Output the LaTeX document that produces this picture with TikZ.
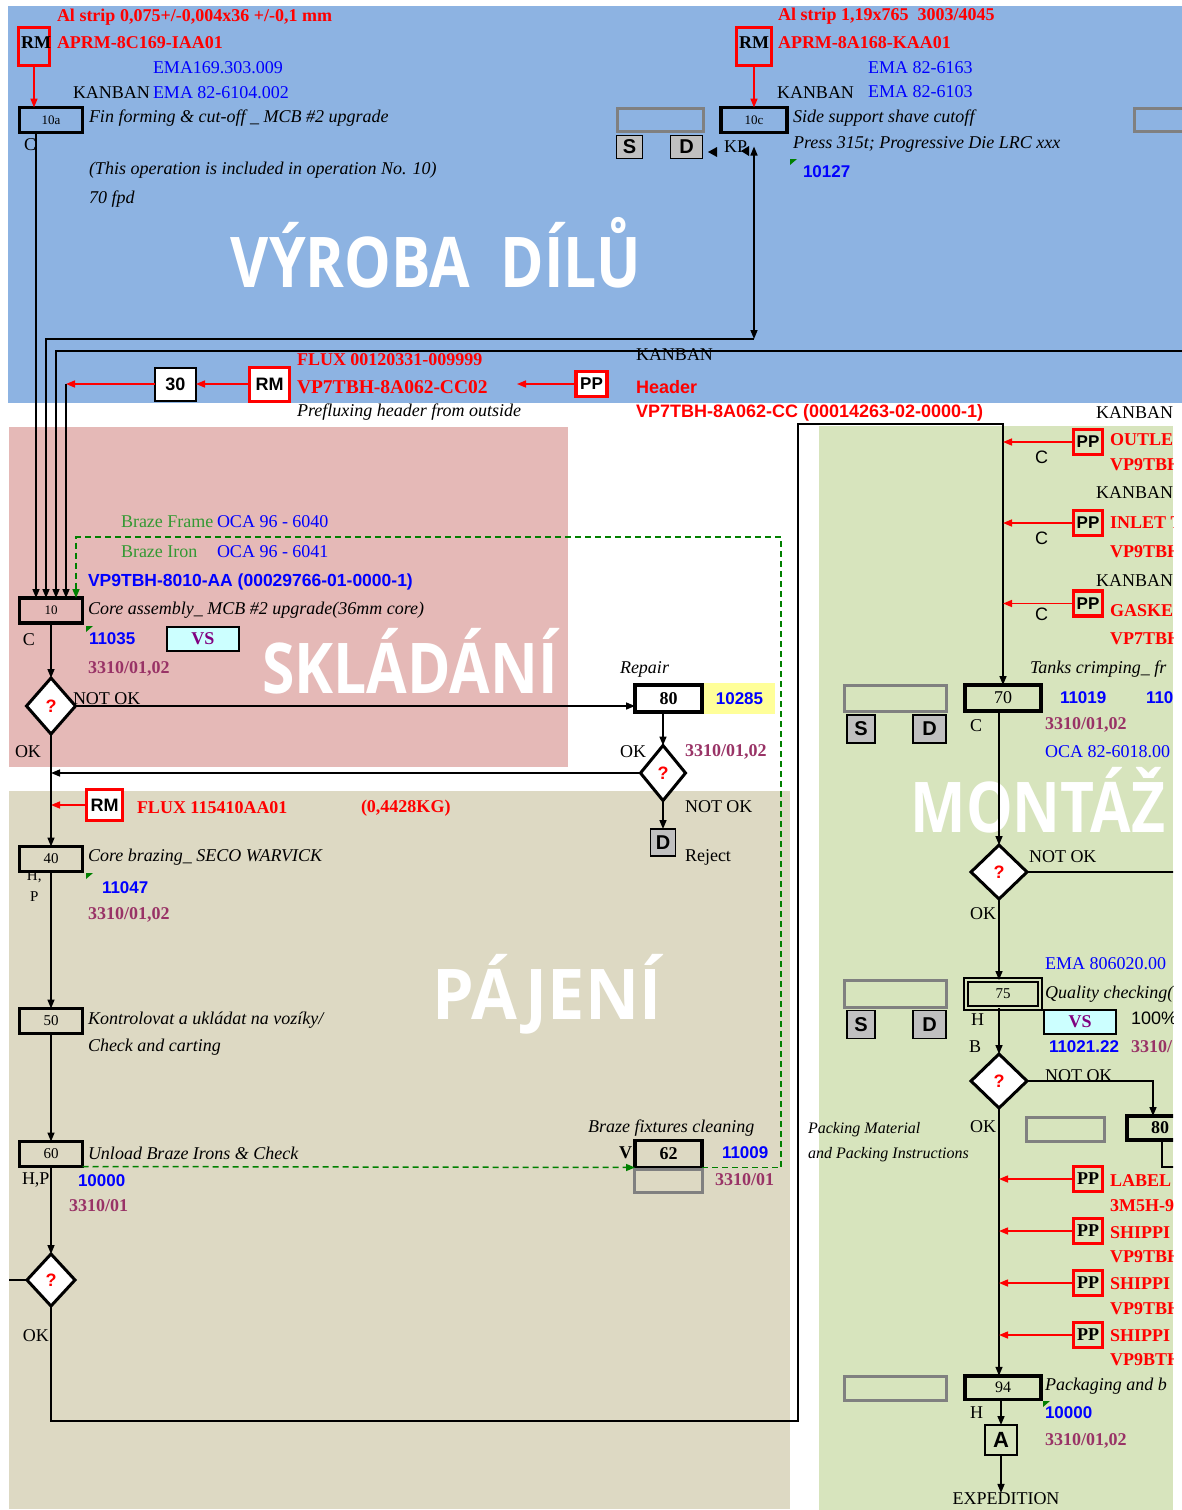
\documentclass[tikz,border=0pt]{standalone}
\usepackage{fontspec}
\setmainfont{Liberation Serif}
\setsansfont{Liberation Sans}
\newfontfamily\zonefont[FakeStretch=0.84]{Open Sans}
\newfontfamily\zonefontwide[FakeStretch=0.95]{Open Sans}
\usetikzlibrary{arrows.meta,shapes.geometric,positioning}

\definecolor{vyrobafill}{RGB}{141,179,226}
\definecolor{skladanifill}{RGB}{229,185,183}
\definecolor{pajenifill}{RGB}{221,217,195}
\definecolor{montazfill}{RGB}{215,228,189}
\definecolor{pfred}{RGB}{255,0,0}
\definecolor{pfblue}{RGB}{0,0,255}
\definecolor{pfplum}{RGB}{153,51,102}
\definecolor{pfgreen}{RGB}{51,153,51}
\definecolor{pfflag}{RGB}{0,128,0}
\definecolor{vsfill}{RGB}{204,255,255}
\definecolor{vstext}{RGB}{128,0,128}
\definecolor{wcfill}{RGB}{255,255,153}
\definecolor{sdfill}{RGB}{192,192,192}
\definecolor{stockdraw}{RGB}{128,128,128}

\begin{document}
\begin{tikzpicture}[
  x=1pt,
  y=-1pt,
  every node/.style={inner sep=0pt, outer sep=0pt},
  txt/.style={anchor=west, font=\fontsize{18}{20}\selectfont},
  sublabel/.style={anchor=west, font=\fontsize{15}{16}\selectfont},
  csans/.style={anchor=west, font=\sffamily\fontsize{18}{20}\selectfont},
  note/.style={anchor=west, font=\itshape\fontsize{18}{20}\selectfont},
  part/.style={anchor=west, text=pfred, font=\bfseries\fontsize{18}{20}\selectfont},
  partsans/.style={anchor=west, text=pfred, font=\sffamily\bfseries\fontsize{18}{20}\selectfont},
  ema/.style={anchor=west, text=pfblue, font=\fontsize{18}{20}\selectfont},
  braze/.style={anchor=west, text=pfgreen, font=\fontsize{18}{20}\selectfont},
  wc/.style={anchor=west, text=pfblue, font=\sffamily\bfseries\fontsize{17}{19}\selectfont},
  dwg/.style={anchor=west, text=pfplum, font=\bfseries\fontsize{18}{20}\selectfont},
  zone/.style={anchor=base, text=white, font=\zonefont\bfseries\fontsize{70}{70}\selectfont},
  rmlabel/.style={font=\bfseries\fontsize{18}{20}\selectfont},
  opbox/.style={draw, line width=3.5pt, minimum width=63, minimum height=25, font=\fontsize{13}{13}\selectfont},
  bigop/.style={opbox, minimum width=67, minimum height=27, font=\bfseries\fontsize{18}{18}\selectfont},
  opthin/.style={draw, line width=2pt, fill=white, minimum width=41, minimum height=33, font=\sffamily\bfseries\fontsize{18}{18}\selectfont},
  opdouble/.style={draw, line width=2pt, double=montazfill, double distance=2pt, minimum width=74, minimum height=28, font=\fontsize{15}{15}\selectfont},
  rmbox/.style={draw=pfred, line width=3pt},
  ppbox/.style={draw=pfred, line width=3.5pt, minimum width=29, minimum height=25, font=\sffamily\bfseries\fontsize{17}{17}\selectfont},
  vsbox/.style={draw, line width=2pt, fill=vsfill, text=vstext, minimum width=72, minimum height=24, font=\bfseries\fontsize{18}{18}\selectfont},
  wcbox/.style={fill=wcfill, minimum width=71, minimum height=31, text=pfblue, font=\sffamily\bfseries\fontsize{17}{17}\selectfont},
  sdbox/.style={draw, line width=1.5pt, fill=sdfill, font=\sffamily\bfseries\fontsize{20}{20}\selectfont},
  stock/.style={draw=stockdraw, line width=3pt},
  decision/.style={diamond, draw, line width=3pt, fill=white, text=pfred, font=\sffamily\bfseries\fontsize{18}{18}\selectfont},
  link/.style={draw, line width=1.5pt},
  flow/.style={draw, line width=1.5pt, -{Triangle[length=9pt,width=7pt]}},
  supply/.style={flow, color=pfred},
  kanbanloop/.style={draw=pfflag, line width=1.5pt, dash pattern=on 6pt off 4pt, -{Triangle[length=9pt,width=7pt]}}
]

  \path[use as bounding box] (0,0) rectangle (1182,1510);

  % Department areas.
  \fill[vyrobafill] (8,6) rectangle (1190,403);
  \fill[skladanifill] (9,427) rectangle (568,767);
  \fill[pajenifill] (9,791) rectangle (790,1509);
  \fill[montazfill] (819,426) rectangle (1173,1510);

  \node[zone] (zvyroba) at (436,287) {VÝROBA\ \ DÍLŮ};
  \node[zone] (zsklad) at (410,693) {SKLÁDÁNÍ};
  \node[zone, font=\zonefontwide\bfseries\fontsize{70}{70}\selectfont] (zpajeni) at (547,1019) {PÁJENÍ};
  \node[zone] (zmontaz) at (1038,832) {MONTÁŽ};

  % Fin forming.
  \node[part] (stripA) at (57,17) {Al strip 0,075+/-0,004x36 +/-0,1 mm};
  \node[rmbox, minimum width=31, minimum height=38] (rmA) at (34,46.5) {};
  \node[rmlabel] (rmAtxt) at (36,43) {RM};
  \node[part] (aprmA) at (57,43) {APRM-8C169-IAA01};
  \node[ema] (emaA1) at (153,68) {EMA169.303.009};
  \node[txt] (kanbanA) at (73,93) {KANBAN};
  \node[ema] (emaA2) at (153,93) {EMA 82-6104.002};
  \node[opbox] (op10a) at (51,120) {10a};
  \node[note] (op10adesc) at (89,118) {Fin forming \& cut-off \_ MCB \#2 upgrade};
  \node[txt] (op10aC) at (24,145) {C};
  \node[note] (op10anote) at (89,170) {(This operation is included in operation No. 10)};
  \node[note] (op10arate) at (89,199) {70 fpd};
  \draw[supply] (rmA.south) -- (rmA.south |- op10a.north);

  % Side support.
  \node[part] (stripC) at (778,16) {Al strip 1,19x765\ \ 3003/4045};
  \node[rmbox, minimum width=35, minimum height=38] (rmB) at (754,46.5) {};
  \node[rmlabel] (rmBtxt) at (754,43) {RM};
  \node[part] (aprmC) at (778,43) {APRM-8A168-KAA01};
  \node[ema] (emaC1) at (868,68) {EMA 82-6163};
  \node[txt] (kanbanC) at (777,93) {KANBAN};
  \node[ema] (emaC2) at (868,92) {EMA 82-6103};
  \node[opbox, minimum width=66] (op10c) at (754,120) {10c};
  \node[note] (op10cdesc) at (793,118) {Side support shave cutoff};
  \node[note] (op10cpress) at (793,144) {Press 315t; Progressive Die LRC xxx};
  \fill[pfflag] (790,159) -- ++(7,0) -- ++(-7,6) -- cycle;
  \node[wc] (wc10c) at (803,172) {10127};
  \node[stock, minimum width=86, minimum height=23] (stock10c) at (660.5,120) {};
  \node[sdbox, minimum width=26, minimum height=23] (s10c) at (629.5,147) {S};
  \node[sdbox, minimum width=32, minimum height=23] (d10c) at (686.5,147) {D};
  \node[txt] (kp10c) at (724,147) {KP};
  \node[stock, minimum width=56, minimum height=23] (stockR) at (1162,120) {};
  \fill (708,152) -- (717,147) -- (717,157) -- cycle;
  \fill (741,151) -- (749,146) -- (749,156) -- cycle;
  \draw[supply] (rmB.south) -- (op10c.north);

  % Header prefluxing.
  \node[part] (fluxA) at (297,360) {FLUX 00120331-009999};
  \node[part, font=\bfseries\fontsize{19.5}{21}\selectfont] (headerpart) at (297,387) {VP7TBH-8A062-CC02};
  \node[note] (preflux) at (297,412) {Prefluxing header from outside};
  \node[ppbox, fill=white, minimum width=31] (ppA) at (591.5,384) {PP};
  \node[rmbox, fill=white, minimum width=40, minimum height=34, font=\sffamily\bfseries\fontsize{18}{18}\selectfont] (rmC) at (269.5,384) {RM};
  \node[opthin] (op30) at (175.5,384) {30};
  \coordinate (preflend) at (517,384);
  \coordinate (preflin) at (66,384);
  \draw[supply] (ppA.west) -- (preflend);
  \draw[supply] (rmC.west) -- (op30.east);
  \draw[supply] (op30.west) -- (preflin);
  \node[txt] (kanbanH) at (636,355) {KANBAN};
  \node[partsans] (headerA) at (636,387) {Header};
  \node[partsans] (headerB) at (636,413) {VP7TBH-8A062-CC (00014263-02-0000-1)};
  \node[txt] (kanbanM) at (1096,413) {KANBAN};

  % Core assembly.
  \node[braze] (bframe) at (121,522) {Braze Frame};
  \node[ema] (bframeoca) at (217,522) {OCA 96 - 6040};
  \node[braze] (biron) at (121,552) {Braze Iron};
  \node[ema] (bironoca) at (217,552) {OCA 96 - 6041};
  \node[wc, font=\sffamily\bfseries\fontsize{17.5}{19}\selectfont] (corepart) at (88,582) {VP9TBH-8010-AA (00029766-01-0000-1)};
  \node[opbox] (op10) at (51,610.5) {10};
  \node[note] (op10desc) at (88,610) {Core assembly\_ MCB \#2 upgrade(36mm core)};
  \node[txt] (op10C) at (23,640) {C};
  \fill[pfflag] (86,626) -- ++(7,0) -- ++(-7,6) -- cycle;
  \node[wc] (wc10) at (89,639) {11035};
  \node[vsbox] (vs10) at (203,638.5) {VS};
  \node[dwg] (dwg10) at (88,669) {3310/01,02};

  % Feeds into core assembly.
  \coordinate (feedC) at (46,339);
  \coordinate (fromR) at (1190,351);
  \draw[flow, {Triangle[length=9pt,width=7pt]}-{Triangle[length=9pt,width=7pt]}] ([yshift=-14]op10c.south) -- (op10c.south |- feedC);
  \draw[flow] (op10c.south |- feedC) -| ([xshift=-5]op10.north);
  \draw[flow] (fromR) -| ([xshift=5]op10.north);
  \draw[flow] ([xshift=-15]op10a.south) -- ([xshift=-15]op10.north);
  \draw[flow] (preflin) -- ([xshift=15]op10.north);

  \node[decision, minimum width=49, minimum height=56] (dec10) at (51,706) {?};
  \node[txt] (dec10nok) at (73,699) {NOT OK};
  \node[txt] (dec10ok) at (15,752) {OK};
  \node[note] (repair) at (620,669) {Repair};
  \node[bigop] (op80) at (668.5,698.5) {80};
  \node[wcbox] (wc80) at (739.5,698.5) {10285};
  \node[decision, minimum width=45, minimum height=55] (dec80) at (663,773) {?};
  \node[txt] (dec80ok) at (620,752) {OK};
  \node[dwg] (dwg80) at (685,752) {3310/01,02};
  \node[txt] (dec80nok) at (685,807) {NOT OK};
  \node[sdbox, minimum width=25, minimum height=27] (reject) at (663,842.5) {D};
  \node[txt] (rejecttxt) at (685,857) {Reject};
  \draw[flow] (op10) -- (dec10);
  \draw[flow] (dec10.east) -- (dec10.east -| op80.west);
  \draw[flow] (dec80.north |- op80.south) -- (dec80.north);
  \draw[flow] (dec80.west) -- (dec80.west -| dec10.south);
  \draw[flow] (dec80.south) -- (reject.north);

  % Brazing.
  \node[rmbox, fill=white, minimum width=36, minimum height=31, font=\sffamily\bfseries\fontsize{18}{18}\selectfont] (rmD) at (104.5,805) {RM};
  \draw[supply] (rmD.west) -- (rmD.west -| dec10.south);
  \node[part] (fluxB) at (137,808) {FLUX 115410AA01};
  \node[part] (fluxBkg) at (361,808) {(0,4428KG)};
  \node[opbox, font=\fontsize{15}{15}\selectfont] (op40) at (51,859) {40};
  \node[note] (op40desc) at (88,857) {Core brazing\_ SECO WARVICK};
  \node[sublabel] (op40H) at (27,877) {H,};
  \node[sublabel] (op40P) at (30,897) {P};
  \fill[pfflag] (86,873) -- ++(7,0) -- ++(-7,6) -- cycle;
  \node[wc] (wc40) at (102,888) {11047};
  \node[dwg] (dwg40) at (88,915) {3310/01,02};
  \node[opbox, font=\fontsize{15}{15}\selectfont] (op50) at (51,1021) {50};
  \node[note] (op50desc) at (88,1020) {Kontrolovat a ukládat na vozíky/};
  \node[note] (op50desc2) at (88,1047) {Check and carting};
  \node[opbox, font=\fontsize{15}{15}\selectfont] (op60) at (51,1154) {60};
  \node[note] (op60desc) at (88,1153) {Unload Braze Irons \& Check};
  \node[txt] (op60HP) at (22,1180) {H,P};
  \node[wc] (wc60) at (78,1181) {10000};
  \node[dwg] (dwg60) at (69,1206) {3310/01};
  \node[note] (op62desc) at (588,1128) {Braze fixtures cleaning};
  \node[rmlabel, anchor=west] (op62V) at (619,1153) {V};
  \node[bigop, fill=pajenifill] (op62) at (668.5,1154) {62};
  \node[stock, minimum width=68, minimum height=23] (stock62) at (668.5,1181) {};
  \node[wc] (wc62) at (722,1153) {11009};
  \node[dwg] (dwg62) at (715,1180) {3310/01};
  \node[decision, minimum width=48, minimum height=52] (dec60) at (51,1280) {?};
  \node[txt] (dec60ok) at (23,1336) {OK};
  \coordinate (offL) at (9,1280);
  \draw[flow] (dec10) -- (op40);
  \draw[flow] (op40) -- (op50);
  \draw[flow] (op50) -- (op60);
  \draw[flow] (op60) -- (dec60);
  \draw[link] (offL) -- (dec60.west);

  % Braze iron return loop.
  \coordinate (loopC) at (781,537);
  \draw[kanbanloop] (op60.south east) -- (op62.south west);
  \draw[kanbanloop] (op62.south east) -| (loopC) -| ([xshift=25]op10.north);

  % Assembly line.
  \node[txt] (kanbanR2) at (1096,493) {KANBAN};
  \node[txt] (kanbanR3) at (1096,581) {KANBAN};
  \begin{scope}
  \clip (0,404) rectangle (1173,1510);
  \node[opbox, minimum width=76, minimum height=26, font=\fontsize{18}{18}\selectfont] (op70) at (1003,698) {70};
  \coordinate (retA) at (798,1421);
  \coordinate (retB) at (798,424);
  \draw[flow] (dec60.south) |- (retA) -- (retB) -| (op70.north);

  \node[ppbox] (ppR1) at (1088,442) {PP};
  \node[csans] (cR1) at (1035,457) {C};
  \node[part] (outlet) at (1110,440) {OUTLE};
  \node[part] (outletno) at (1110,465) {VP9TBH};
  \node[ppbox] (ppR2) at (1088,523) {PP};
  \node[csans] (cR2) at (1035,538) {C};
  \node[part] (inlet) at (1110,523) {INLET T};
  \node[part] (inletno) at (1110,552) {VP9TBH};
  \node[ppbox] (ppR3) at (1088,603.5) {PP};
  \node[csans] (cR3) at (1035,614) {C};
  \node[part] (gasket) at (1110,611) {GASKE};
  \node[part] (gasketno) at (1110,639) {VP7TBH};
  \draw[supply] (ppR1.west) -- (ppR1.west -| op70.north);
  \draw[supply] (ppR2.west) -- (ppR2.west -| op70.north);
  \draw[supply] (ppR3.west) -- (ppR3.west -| op70.north);

  \node[note] (op70desc) at (1030,669) {Tanks crimping\_ fr};
  \node[stock, minimum width=102, minimum height=26] (stock70) at (895,698.5) {};
  \node[sdbox, minimum width=28, minimum height=28] (s70) at (861,729) {S};
  \node[sdbox, minimum width=33, minimum height=28] (d70) at (929.5,729) {D};
  \node[txt] (op70C) at (970,726) {C};
  \node[wc] (wc70a) at (1060,698) {11019};
  \node[wc] (wc70b) at (1146,698) {110};
  \node[dwg] (dwg70) at (1045,725) {3310/01,02};
  \node[ema] (oca70) at (1045,752) {OCA 82-6018.00};

  \node[decision, minimum width=56, minimum height=54] (dec70) at (999,872) {?};
  \node[txt] (dec70nok) at (1029,857) {NOT OK};
  \node[txt] (dec70ok) at (970,914) {OK};
  \coordinate (offR) at (1190,872);
  \draw[flow] (op70.south -| dec70.north) -- (dec70.north);
  \draw[link] (dec70.east) -- (offR);

  \node[opdouble] (op75) at (1003,994) {75};
  \node[stock, minimum width=102, minimum height=27] (stock75) at (895,994) {};
  \node[sdbox, minimum width=28, minimum height=28] (s75) at (861,1024.5) {S};
  \node[sdbox, minimum width=33, minimum height=28] (d75) at (929.5,1024.5) {D};
  \node[ema] (ema75) at (1045,964) {EMA 806020.00};
  \node[note] (op75desc) at (1045,994) {Quality checking(};
  \node[vsbox] (vs75) at (1080,1021.5) {VS};
  \node[csans] (vs75rate) at (1131,1018) {100\%};
  \node[txt] (op75H) at (971,1020) {H};
  \node[txt] (op75B) at (969,1047) {B};
  \node[wc] (wc75) at (1049,1047) {11021.22};
  \node[dwg] (dwg75) at (1131,1047) {3310/};
  \draw[flow] (dec70.south) -- (dec70.south |- op75.north);

  \node[decision, minimum width=56, minimum height=54] (dec75) at (999,1081) {?};
  \node[txt] (dec75nok) at (1045,1076) {NOT OK};
  \node[txt] (dec75ok) at (970,1127) {OK};
  \node[bigop, minimum width=66, minimum height=24] (op80b) at (1160,1128) {80};
  \node[stock, minimum width=78, minimum height=24] (stock80) at (1065.5,1129.5) {};
  \coordinate (reworkR) at (1190,1167);
  \draw[flow] (op75.south -| dec75.north) -- (dec75.north);
  \draw[flow] (dec75.east) -| ([xshift=-7]op80b.north);
  \draw[link] ([xshift=2]op80b.south) |- (reworkR);

  \node[note, font=\itshape\fontsize{16}{18}\selectfont] (packmat) at (808,1130) {Packing Material};
  \node[note, font=\itshape\fontsize{16}{18}\selectfont] (packinst) at (808,1155) {and Packing Instructions};

  \node[ppbox, font=\bfseries\fontsize{18}{18}\selectfont] (ppR4) at (1088,1179) {PP};
  \node[part] (label) at (1110,1181) {LABEL};
  \node[part] (labelno) at (1110,1206) {3M5H-9};
  \node[ppbox, font=\bfseries\fontsize{18}{18}\selectfont] (ppR5) at (1088,1231) {PP};
  \node[part] (ship1) at (1110,1233) {SHIPPI};
  \node[part] (ship1no) at (1110,1257) {VP9TBH};
  \node[ppbox, font=\bfseries\fontsize{18}{18}\selectfont] (ppR6) at (1088,1283) {PP};
  \node[part] (ship2) at (1110,1284) {SHIPPI};
  \node[part] (ship2no) at (1110,1309) {VP9TBH};
  \node[ppbox, font=\bfseries\fontsize{18}{18}\selectfont] (ppR7) at (1088,1335) {PP};
  \node[part] (ship3) at (1110,1336) {SHIPPI};
  \node[part] (ship3no) at (1110,1360) {VP9BTH};

  \node[opbox, minimum width=76, minimum height=23.5, font=\fontsize{16}{16}\selectfont] (op94) at (1003,1387.5) {94};
  \draw[flow] (dec75.south) -- (dec75.south |- op94.north);
  \draw[supply] (ppR4.west) -- (ppR4.west -| dec75.south);
  \draw[supply] (ppR5.west) -- (ppR5.west -| dec75.south);
  \draw[supply] (ppR6.west) -- (ppR6.west -| dec75.south);
  \draw[supply] (ppR7.west) -- (ppR7.west -| dec75.south);
  \node[stock, minimum width=102, minimum height=24] (stock94) at (895,1388.5) {};
  \node[note] (op94desc) at (1045,1386) {Packaging and b};
  \node[txt] (op94H) at (970,1413) {H};
  \fill[pfflag] (1043,1401) -- ++(7,0) -- ++(-7,6) -- cycle;
  \node[wc] (wc94) at (1045,1413) {10000};
  \node[dwg] (dwg94) at (1045,1441) {3310/01,02};
  \node[draw, line width=1.5pt, minimum width=32, minimum height=30, font=\sffamily\bfseries\fontsize{22}{22}\selectfont] (boxA) at (1001,1440) {A};
  \node[font=\fontsize{18}{20}\selectfont] (expedition) at (1006,1499) {EXPEDITION};
  \draw[flow] (op94.south -| boxA.north) -- (boxA.north);
  \draw[flow] (boxA.south) -- (boxA.south |- expedition.north);
  \end{scope}

\end{tikzpicture}
\end{document}
